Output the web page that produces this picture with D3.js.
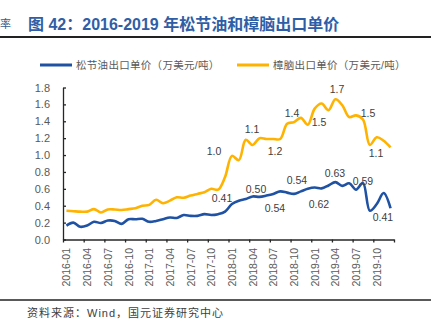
<!DOCTYPE html>
<html><head><meta charset="utf-8">
<script src="https://cdn.jsdelivr.net/npm/d3@7"></script>
<style>
html,body{margin:0;padding:0;background:#fff;}
svg{display:block;}
text{font-family:"Liberation Sans","Noto Sans CJK SC",Arial,sans-serif;}
</style></head>
<body>
<svg id="chart" width="446" height="329"></svg>
<script>
const categories = [
 "2016-01","2016-02","2016-03","2016-04","2016-05","2016-06","2016-07","2016-08","2016-09","2016-10","2016-11","2016-12",
 "2017-01","2017-02","2017-03","2017-04","2017-05","2017-06","2017-07","2017-08","2017-09","2017-10","2017-11","2017-12",
 "2018-01","2018-02","2018-03","2018-04","2018-05","2018-06","2018-07","2018-08","2018-09","2018-10","2018-11","2018-12",
 "2019-01","2019-02","2019-03","2019-04","2019-05","2019-06","2019-07","2019-08","2019-09","2019-10","2019-11","2019-12"];
const tickLabels = ["2016-01","2016-04","2016-07","2016-10","2017-01","2017-04","2017-07","2017-10",
 "2018-01","2018-04","2018-07","2018-10","2019-01","2019-04","2019-07","2019-10"];
const yTicks = [0,0.2,0.4,0.6,0.8,1.0,1.2,1.4,1.6,1.8];
const seriesNames = ["松节油出口单价（万美元/吨）","樟脑出口单价（万美元/吨）"];
// 松节油 (pine oil)
const pineOil = [0.165,0.20,0.15,0.165,0.21,0.195,0.225,0.22,0.185,0.24,0.24,0.245,
 0.21,0.22,0.24,0.26,0.255,0.29,0.28,0.28,0.30,0.29,0.30,0.33,
 0.42,0.46,0.48,0.51,0.505,0.52,0.54,0.57,0.555,0.54,0.57,0.60,
 0.615,0.605,0.64,0.68,0.635,0.665,0.59,0.67,0.34,0.42,0.55,0.37];
// 樟脑 (camphor)
const camphor = [0.34,0.335,0.33,0.33,0.36,0.32,0.355,0.355,0.35,0.36,0.37,0.40,
 0.41,0.47,0.43,0.46,0.50,0.495,0.52,0.54,0.56,0.60,0.59,0.74,
 0.99,0.94,1.18,1.12,1.20,1.19,1.19,1.19,1.37,1.39,1.44,1.36,
 1.55,1.61,1.53,1.66,1.59,1.45,1.47,1.42,1.12,1.21,1.17,1.09];
// annotation labels: text, position along the month axis (months from 2016-01), value level
const pineLabels = [
 {t:"0.41",m:23.06,v:0.491},{t:"0.50",m:27.99,v:0.598},{t:"0.54",m:30.74,v:0.373},{t:"0.54",m:33.93,v:0.705},
 {t:"0.62",m:37.12,v:0.420},{t:"0.63",m:39.44,v:0.788},{t:"0.59",m:43.5,v:0.693},{t:"0.41",m:46.4,v:0.266}];
const camphorLabels = [
 {t:"1.0",m:21.9,v:1.048},{t:"1.1",m:27.4,v:1.309},{t:"1.2",m:30.74,v:1.048},{t:"1.4",m:33.2,v:1.498},
 {t:"1.5",m:37.12,v:1.392},{t:"1.7",m:39.73,v:1.782},{t:"1.5",m:44.23,v:1.498},{t:"1.1",m:45.39,v:1.024}];

const blue = "#1f52a3", yellow = "#ffb300";
const svg = d3.select("#chart");

const x = d3.scaleLinear().domain([0, categories.length]).range([63, 394]);
const y = d3.scaleLinear().domain([0, 1.8]).range([239.5, 87.5]);
const cx = i => x(i + 0.5);

// title
svg.append("text").attr("x",0).attr("y",24).attr("dominant-baseline","central")
  .attr("font-size",11).attr("fill","#3b5b8f").text("率");
svg.append("text").attr("x",28).attr("y",24).attr("dominant-baseline","central")
  .attr("font-size",16).attr("font-weight","bold").attr("fill","#2f5ea6")
  .text("图 42：2016-2019 年松节油和樟脑出口单价");
svg.append("line").attr("x1",0).attr("x2",431).attr("y1",37).attr("y2",37)
  .attr("stroke","#222").attr("stroke-width",1.8);
svg.append("line").attr("x1",0).attr("x2",431).attr("y1",300).attr("y2",300)
  .attr("stroke","#222").attr("stroke-width",1.5);
svg.append("text").attr("x",27).attr("y",313).attr("dominant-baseline","central")
  .attr("font-size",11).attr("letter-spacing",1).attr("fill","#404040")
  .text("资料来源：Wind，国元证券研究中心");

// legend
const legendX = [[40,72,76],[237,269,273]];
[blue, yellow].forEach((c,k)=>{
  svg.append("line").attr("x1",legendX[k][0]).attr("x2",legendX[k][1]).attr("y1",65).attr("y2",65)
    .attr("stroke",c).attr("stroke-width",3);
  svg.append("text").attr("x",legendX[k][2]).attr("y",65).attr("dominant-baseline","central")
    .attr("font-size",10.5).attr("letter-spacing",0.3).attr("fill","#595959").text(seriesNames[k]);
});

// axes
const yAxis = d3.axisLeft(y).tickValues(yTicks).tickFormat(d3.format(".1f"))
  .tickSizeInner(-3).tickSizeOuter(0).tickPadding(13);
const gy = svg.append("g").attr("transform","translate(63,0)").call(yAxis);
gy.selectAll("text").attr("font-size",11).attr("fill","#595959").attr("font-family",null);
gy.selectAll("line,path").attr("stroke","#262626").attr("stroke-width",1.3);

const xAxis = d3.axisBottom(x).tickValues(d3.range(0, categories.length + 1, 3))
  .tickFormat("").tickSizeInner(3).tickSizeOuter(0);
const gx = svg.append("g").attr("transform","translate(0,239.5)").call(xAxis);
gx.selectAll("line,path").attr("stroke","#262626").attr("stroke-width",1.3);

const xLab = svg.append("g");
tickLabels.forEach(lbl=>{
  const i = categories.indexOf(lbl);
  xLab.append("text").attr("transform",`translate(${cx(i)},248) rotate(-90)`)
    .attr("text-anchor","end").attr("dominant-baseline","central")
    .attr("font-size",10.5).attr("fill","#595959").text(lbl);
});

// lines
const line = d3.line().x((d,i)=>cx(i)).y(d=>y(d)).curve(d3.curveCatmullRom.alpha(0.5));
svg.append("path").datum(camphor).attr("d",line).attr("fill","none")
  .attr("stroke",yellow).attr("stroke-width",2.6).attr("stroke-linejoin","round");
svg.append("path").datum(pineOil).attr("d",line).attr("fill","none")
  .attr("stroke",blue).attr("stroke-width",2.6).attr("stroke-linejoin","round");

// annotations
[...pineLabels, ...camphorLabels].forEach(d=>{
  svg.append("text").attr("x",x(d.m)).attr("y",y(d.v)).attr("text-anchor","middle")
    .attr("dominant-baseline","central").attr("font-size",10.5).attr("fill","#404040").text(d.t);
});
</script>
</body></html>
